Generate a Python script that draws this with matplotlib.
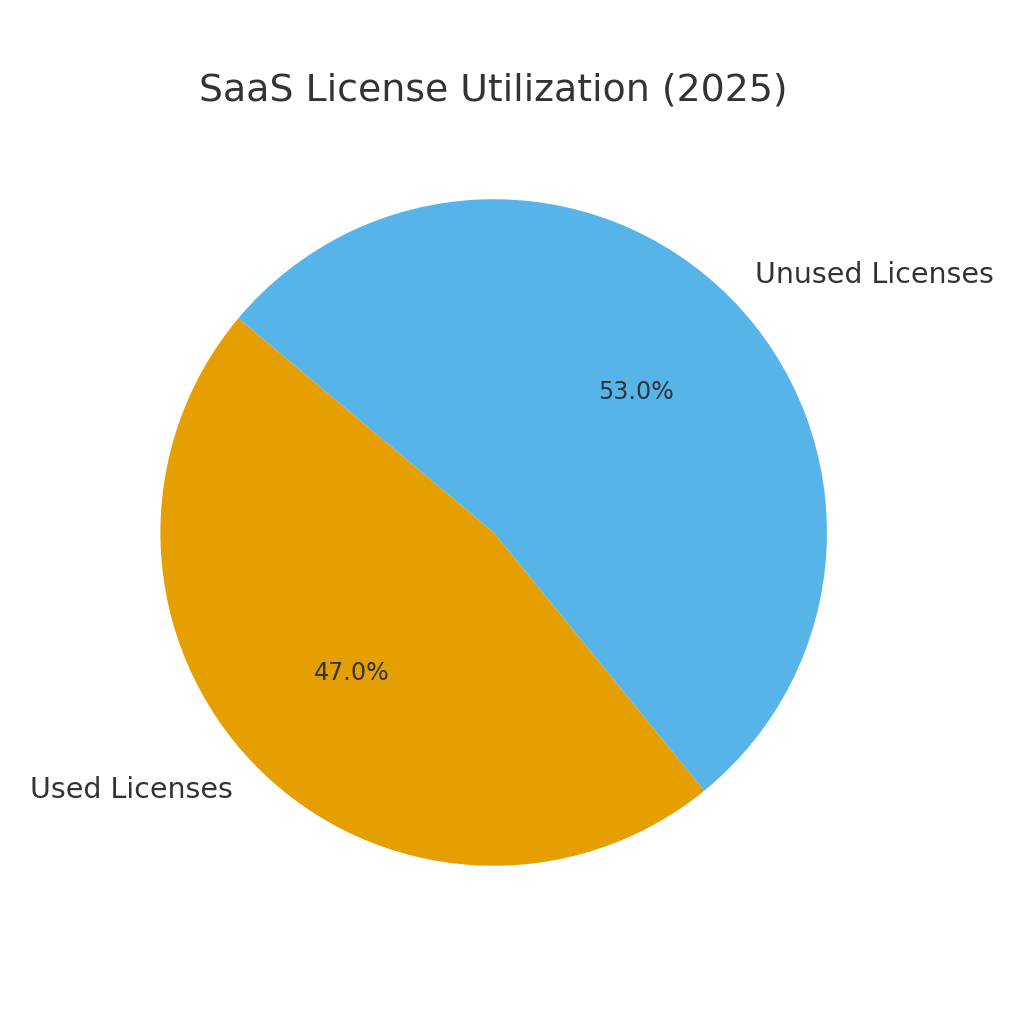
# Pie chart of SaaS license utilization for 2025

import matplotlib
matplotlib.use('Agg')
import matplotlib.pyplot as plt

labels = ['Used Licenses', 'Unused Licenses']
shares = [47.0, 53.0]
colors = ['#E69F00', '#56B4E9']

text_color = '#333333'

fig = plt.figure(figsize=(8, 8), dpi=128)
# axes nudged a bit left, like the original layout
ax = fig.add_axes([0.0846, 0.122, 0.795, 0.716])

wedges, texts, autotexts = ax.pie(
    shares,
    labels=labels,
    colors=colors,
    autopct='%1.1f%%',
    startangle=140,
    textprops={'color': text_color, 'fontsize': 16},
)
for t in autotexts:
    t.set_fontsize(13.4)
ax.axis('equal')

fig.suptitle('SaaS License Utilization (2025)', fontsize=21.3,
             color=text_color, x=0.482, y=0.929)

plt.savefig('out.png', dpi=128)
